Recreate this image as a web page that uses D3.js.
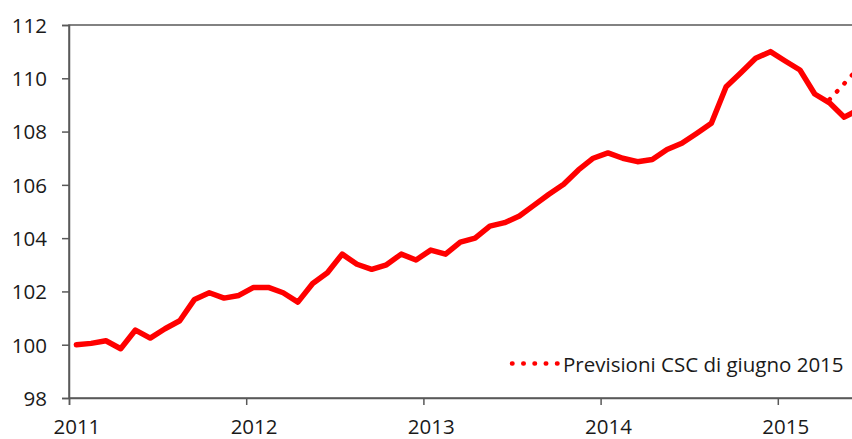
<!DOCTYPE html>
<html><head><meta charset="utf-8">
<script src="https://cdn.jsdelivr.net/npm/d3@7"></script>
<style>
body{margin:0;background:#fff;}
svg{display:block;}
.tick text{font-family:"Open Sans",sans-serif;font-size:20.5px;fill:#1a1a1a;}
</style></head><body>
<svg id="c" width="852" height="439"></svg>
<script>
// Data: monthly index values, Jan 2011 - Jun 2015
const years = ["2011","2012","2013","2014","2015"];
const actual = [
  100.0,100.05,100.15,99.85,100.55,100.25,100.6,100.9,101.7,101.95,101.75,101.85,
  102.15,102.15,101.95,101.6,102.3,102.7,103.4,103.02,102.83,103.0,103.4,103.18,
  103.55,103.4,103.85,104.0,104.45,104.58,104.83,105.24,105.65,106.02,106.56,107.0,
  107.2,107.0,106.87,106.95,107.33,107.56,107.93,108.31,109.68,110.21,110.75,111.0,
  110.65,110.31,109.41,109.08,108.54,108.83
];
const forecastStart = 51; // month index of Apr 2015
const forecast = [109.2, 109.8, 110.4];
const yTicks = [98,100,102,104,106,108,110,112];
const legendLabel = "Previsioni CSC di giugno 2015";

const svg = d3.select("#c");
const mLeft = 69, mTop = 25, mBottom = 398, monthW = 177.2/12;
const x = d3.scaleLinear().domain([0, 60]).range([mLeft, mLeft + 60*monthW]);
const y = d3.scaleLinear().domain([98, 112]).range([mBottom, mTop]);
const axisColor = "#595959";

// plot border
svg.append("rect").attr("x", mLeft).attr("y", mTop)
  .attr("width", x(60)-mLeft).attr("height", mBottom-mTop)
  .attr("fill","none").attr("stroke", axisColor).attr("stroke-width", 1.5);

// Y axis
const yAxis = d3.axisLeft(y).tickValues(yTicks).tickSize(7).tickPadding(15).tickFormat(d3.format("d"));
const gy = svg.append("g").attr("transform", `translate(${mLeft},0)`).call(yAxis);
gy.select(".domain").attr("stroke", axisColor).attr("stroke-width", 1.5);
gy.selectAll(".tick line").attr("stroke", axisColor).attr("stroke-width", 1.5);
gy.selectAll(".tick text").attr("dy", "0.36em");

// X axis
const xAxis = d3.axisBottom(x).tickValues(years.map((d,i)=>i*12)).tickSize(7).tickFormat((d,i)=>years[i]);
const gx = svg.append("g").attr("transform", `translate(0,${mBottom})`).call(xAxis);
gx.select(".domain").attr("stroke", axisColor).attr("stroke-width", 1.5);
gx.selectAll(".tick line").attr("stroke", axisColor).attr("stroke-width", 1.5);
gx.selectAll(".tick text").attr("x", monthW/2).attr("dy", null).attr("y", 36);

svg.append("clipPath").attr("id","pc").append("rect")
  .attr("x", mLeft).attr("y", 0).attr("width", 900).attr("height", mBottom);

const line = d3.line().x(d => x(d.m + 0.5)).y(d => y(d.v));

// forecast dotted
const fData = forecast.map((v,i)=>({m: forecastStart+i, v}));
svg.append("path").datum(fData).attr("d", line).attr("clip-path","url(#pc)")
  .attr("fill","none").attr("stroke","#ff0000").attr("stroke-width",4.5)
  .attr("stroke-linecap","round").attr("stroke-dasharray","0.5,10.5");

// actual
const aData = actual.map((v,i)=>({m:i, v}));
svg.append("path").datum(aData).attr("d", line).attr("clip-path","url(#pc)")
  .attr("fill","none").attr("stroke","#ff0000").attr("stroke-width",5.5)
  .attr("stroke-linejoin","round").attr("stroke-linecap","round");

// legend
const lg = svg.append("g");
lg.append("line").attr("x1",512).attr("x2",558).attr("y1",363.5).attr("y2",363.5)
  .attr("stroke","#ff0000").attr("stroke-width",4.5).attr("stroke-linecap","round")
  .attr("stroke-dasharray","0.5,10.75");
lg.append("text").attr("x",563).attr("y",371.5)
  .attr("font-family","Open Sans, sans-serif").attr("font-size",20.5).attr("fill","#1a1a1a")
  .text(legendLabel);
</script></body></html>
